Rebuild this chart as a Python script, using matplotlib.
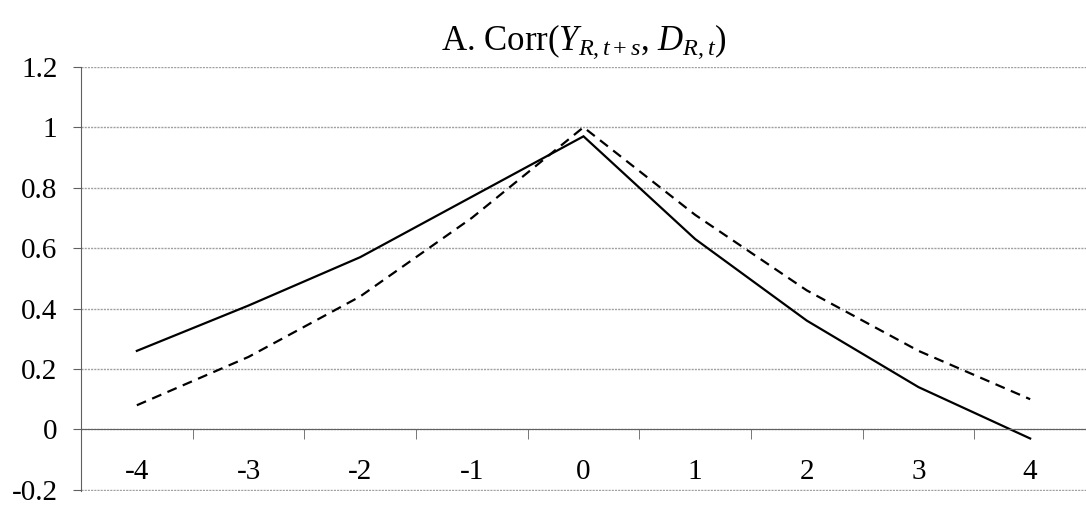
import matplotlib
matplotlib.use("Agg")
import matplotlib.pyplot as plt
from matplotlib.ticker import FixedLocator, FuncFormatter

plt.rcParams['font.family'] = ['Liberation Serif', 'DejaVu Serif']
plt.rcParams['mathtext.fontset'] = 'custom'
plt.rcParams['mathtext.rm'] = 'Liberation Serif'
plt.rcParams['mathtext.it'] = 'Liberation Serif:italic'

# data
lags = [-4, -3, -2, -1, 0, 1, 2, 3, 4]
solid_vals = [0.26, 0.41, 0.57, 0.77, 0.97, 0.63, 0.36, 0.14, -0.03]
dashed_vals = [0.08, 0.24, 0.44, 0.70, 1.00, 0.71, 0.46, 0.26, 0.10]
y_ticks = [-0.2, 0, 0.2, 0.4, 0.6, 0.8, 1.0, 1.2]

fig = plt.figure(figsize=(10.86, 5.18), dpi=100)
ax = fig.add_axes([0.0746, 0.052, 0.9254, 0.819])

ax.plot(lags, solid_vals, color='black', lw=1.6, solid_joinstyle='miter')
ax.plot(lags, dashed_vals, color='black', lw=1.6, linestyle=(0, (4.5, 3)))

ax.set_xlim(lags[0] - 0.5, lags[-1] + 0.5)
ax.set_ylim(y_ticks[0] - 0.004, y_ticks[-1])

ax.set_yticks(y_ticks)
ax.yaxis.set_major_formatter(FuncFormatter(lambda v, p: f"{v:g}"))
ax.grid(axis='y', color='#a0a0a0', lw=1.0, linestyle=(0, (1.5, 0.8)))
ax.set_axisbelow(True)

# category axis crossing at zero
ax.spines['bottom'].set_position(('data', 0))
ax.spines['bottom'].set_color('#606060')
ax.spines['left'].set_color('#606060')
ax.spines['top'].set_visible(False)
ax.spines['right'].set_visible(False)

ax.set_xticks(lags)
ax.set_xticklabels([str(v) for v in lags])
ax.xaxis.set_minor_locator(FixedLocator([v + 0.5 for v in lags[:-1]]))
ax.tick_params(axis='x', which='major', length=0, pad=21, labelsize=21)
ax.tick_params(axis='x', which='minor', length=7, color='#606060', direction='out')
ax.tick_params(axis='y', length=6, color='#606060', labelsize=21, pad=11)

ax.set_title(r"A. Corr($Y_{R,t+s}$, $D_{R,t}$)", fontsize=25, pad=12)

fig.savefig("out.png", dpi=100)
